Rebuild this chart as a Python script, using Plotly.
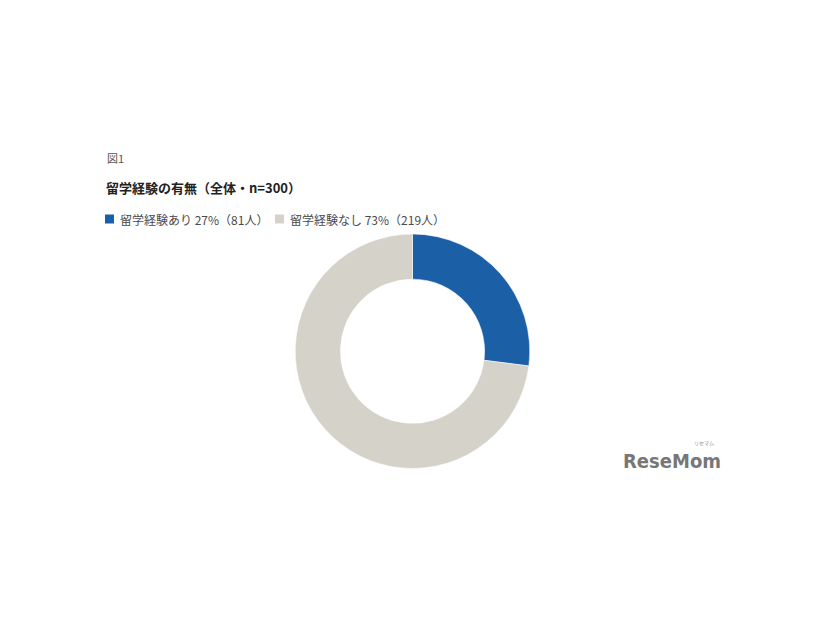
import plotly.graph_objects as go

labels = ["留学経験あり 27%（81人）", "留学経験なし 73%（219人）"]
values = [81, 219]
colors = ["#1b5fa7", "#d5d2ca"]

W, H = 826, 620
OFF = 8  # default page body margin
FONT = "Noto Sans CJK JP"


def px(x):
    return (x - OFF) / W


def py(y):
    return 1 - (y - OFF) / H


fig = go.Figure()
fig.add_trace(go.Pie(
    labels=labels, values=values, hole=0.615, sort=False, direction="clockwise",
    rotation=0, textinfo="none", hoverinfo="label",
    marker=dict(colors=colors, line=dict(color="#ffffff", width=0.5)),
    domain=dict(x=[px(295), px(530)], y=[py(468.5), py(234)]),
))

# manual legend positions
leg_sq_x = [105, 275]
leg_y = 219
shapes = []
annotations = []
for i, (lab, col) in enumerate(zip(labels, colors)):
    x0 = leg_sq_x[i]
    shapes.append(dict(type="rect", xref="paper", yref="paper",
                       x0=px(x0), x1=px(x0 + 9), y0=py(leg_y + 4.5), y1=py(leg_y - 4.5),
                       fillcolor=col, line=dict(width=0)))
    annotations.append(dict(text=lab, x=px(x0 + 13), y=py(leg_y), xref="paper", yref="paper",
                            xanchor="left", yanchor="middle", showarrow=False,
                            font=dict(family=FONT, size=12, color="#4a4a4a")))

annotations += [
    dict(text="図1", x=px(105), y=py(158), xref="paper", yref="paper",
         xanchor="left", yanchor="middle", showarrow=False,
         font=dict(family=FONT, size=11, color="#555555")),
    dict(text="<b>留学経験の有無（全体・n=300）</b>", x=px(104), y=py(187),
         xref="paper", yref="paper", xanchor="left", yanchor="middle", showarrow=False,
         font=dict(family=FONT, size=13, color="#222222")),
    dict(text="<b>ReseMom</b>", x=px(621), y=py(461), xref="paper", yref="paper",
         xanchor="left", yanchor="middle", showarrow=False,
         font=dict(family="DejaVu Sans Condensed, Liberation Sans Narrow, sans-serif", size=20, color="#777777")),
    dict(text="リセマム", x=px(704), y=py(443), xref="paper", yref="paper",
         xanchor="center", yanchor="middle", showarrow=False,
         font=dict(family=FONT, size=5, color="#888888")),
]

fig.update_layout(
    width=W, height=H,
    margin=dict(l=0, r=0, t=0, b=0),
    paper_bgcolor="#ffffff", plot_bgcolor="#ffffff",
    font=dict(family=FONT, color="#444444", size=12),
    showlegend=False,
    shapes=shapes,
    annotations=annotations,
)

fig.write_html("out.html")
